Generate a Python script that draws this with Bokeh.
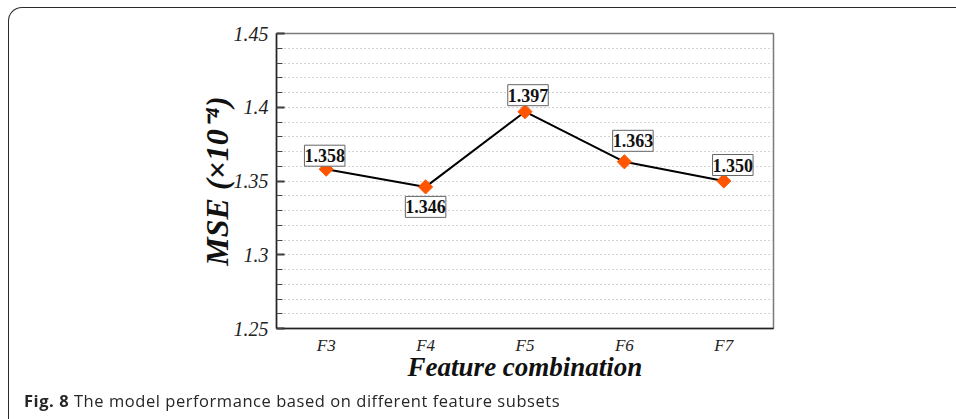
import math
import numpy as np
from bokeh.plotting import figure
from bokeh.models import FactorRange, Range1d, FixedTicker, Label, Div
from bokeh.layouts import column
from bokeh.embed import file_html
from bokeh.resources import INLINE

# Mean squared error for each feature combination
combos = ["F3", "F4", "F5", "F6", "F7"]
mse = [1.358, 1.346, 1.397, 1.363, 1.350]

# y axis ticks and their labels
y_major = [1.25, 1.30, 1.35, 1.40, 1.45]
y_major_labels = ["1.25", "1.3", "1.35", "1.4", "1.45"]
y_minor = [round(v, 2) for v in np.arange(1.25, 1.4501, 0.01)]

# screen offsets of the value boxes relative to their points
label_dx = [-1.5, 0, 3, 8.5, 9]
label_dy = [13.5, -20, 16.5, 21, 16]

SERIF = "Liberation Serif"

x_range = FactorRange(factors=combos)
p = figure(
    width=956, height=416,
    x_range=x_range,
    y_range=Range1d(1.25, 1.45),
    output_backend="svg", toolbar_location=None,
    min_border_left=276, min_border_right=183,
    min_border_top=33, min_border_bottom=88,
)
p.background_fill_color = "white"
p.border_fill_color = "white"
p.outline_line_color = "#7a7a7a"
p.outline_line_width = 1.5

p.xgrid.visible = False
p.ygrid.ticker = FixedTicker(ticks=y_minor)
p.ygrid.grid_line_color = "#a8a8a8"
p.ygrid.grid_line_dash = "1 3"
p.ygrid.grid_line_width = 1

ya = p.yaxis[0]
ya.ticker = FixedTicker(ticks=y_major, minor_ticks=y_minor)
ya.major_label_overrides = dict(zip(y_major, y_major_labels))
ya.axis_line_color = "#222222"
ya.axis_line_width = 1.5
ya.major_tick_in = 8
ya.major_tick_out = 0
ya.major_tick_line_width = 2
ya.major_tick_line_color = "#333333"
ya.minor_tick_in = 6
ya.minor_tick_out = 0
ya.minor_tick_line_color = "#444444"
ya.minor_tick_line_width = 1
ya.major_label_text_font = SERIF
ya.major_label_text_font_style = "italic"
ya.major_label_text_font_size = "20px"
ya.major_label_text_color = "#222222"
ya.major_label_standoff = 8
ya.axis_label = "MSE (×10⁻⁴)"
ya.axis_label_text_font = SERIF
ya.axis_label_text_font_style = "bold italic"
ya.axis_label_text_font_size = "32px"
ya.axis_label_text_color = "#111111"
ya.axis_label_standoff = -4

xa = p.xaxis[0]
xa.axis_line_color = "#222222"
xa.axis_line_width = 1.5
xa.major_tick_in = 0
xa.major_tick_out = 0
xa.major_label_text_font = SERIF
xa.major_label_text_font_style = "italic"
xa.major_label_text_font_size = "17px"
xa.major_label_text_color = "#222222"
xa.major_label_standoff = 7
xa.axis_label = "Feature combination"
xa.axis_label_text_font = SERIF
xa.axis_label_text_font_style = "bold italic"
xa.axis_label_text_font_size = "27px"
xa.axis_label_text_color = "#111111"
xa.axis_label_standoff = -6

p.line(combos, mse, line_color="black", line_width=2)
p.scatter(combos, mse, marker="square", angle=math.pi / 4, size=10,
          fill_color="#ff5500", line_color="#ff5500")

# value boxes: a factor sits at the centre of its unit slot on the range
for i, (v, dx, dy) in enumerate(zip(mse, label_dx, label_dy)):
    p.add_layout(Label(
        x=i + 0.5, y=v, x_offset=dx, y_offset=dy, text=f"{v:.3f}",
        text_align="center", text_baseline="middle",
        text_font=SERIF, text_font_style="bold", text_font_size="18px",
        text_color="#111111",
        background_fill_color="white",
        border_line_color="#666666", border_line_width=1,
        padding=(0, 4),
    ))

frame_and_caption = Div(
    width=1, height=1,
    text=(
        '<div style="position:fixed;left:8px;top:7px;width:1400px;height:900px;'
        'border-top:1.5px solid #2a2a2a;border-left:1.5px solid #2a2a2a;'
        'border-top-left-radius:14px;pointer-events:none;"></div>'
        '<div style="position:fixed;left:24px;top:389px;font-family:\'Open Sans\';'
        'font-size:16.5px;letter-spacing:0.55px;color:#262626;white-space:nowrap;">'
        '<b>Fig. 8</b> The model performance based on different feature subsets</div>'
    ),
)

layout = column(p, frame_and_caption)
open("out.html", "w").write(file_html(layout, INLINE))
